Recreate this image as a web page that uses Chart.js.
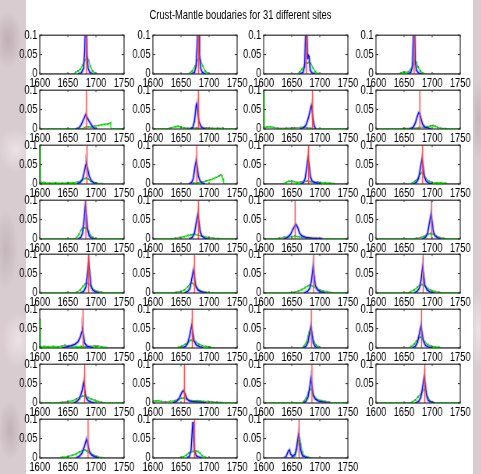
<!DOCTYPE html>
<html><head><meta charset="utf-8">
<script src="https://cdn.jsdelivr.net/npm/chart.js@4.4.1/dist/chart.umd.min.js"></script>
<style>
html,body{margin:0;padding:0;}
body{width:481px;height:474px;overflow:hidden;position:relative;background:#d8ccd0;}
#marble{position:absolute;left:0;top:0;width:481px;height:474px;background:
 radial-gradient(ellipse 14px 30px at 8px 40px, rgba(170,150,158,0.55), transparent),
 radial-gradient(ellipse 18px 22px at 16px 150px, rgba(240,232,236,0.8), transparent),
 radial-gradient(ellipse 12px 40px at 6px 250px, rgba(175,158,165,0.5), transparent),
 radial-gradient(ellipse 16px 28px at 18px 340px, rgba(240,232,236,0.8), transparent),
 radial-gradient(ellipse 12px 30px at 10px 430px, rgba(170,150,158,0.5), transparent),
 radial-gradient(ellipse 8px 40px at 478px 120px, rgba(175,158,165,0.5), transparent),
 radial-gradient(ellipse 8px 40px at 478px 330px, rgba(240,232,236,0.8), transparent),
 #d8ccd0;}
#paper{position:absolute;left:26px;top:0;width:447px;height:474px;background:#fff;}
#stage{position:absolute;left:0;top:0;width:617px;height:474px;transform:scaleX(0.78);transform-origin:0 0;}
#title{position:absolute;left:0;top:8px;width:616.7px;text-align:center;font:12px 'Liberation Sans',Arial,sans-serif;line-height:14px;color:#000;}
canvas{position:absolute;}
</style></head>
<body>
<div id="marble"></div>
<div id="paper"></div>
<div id="stage"><div id="title">Crust-Mantle boudaries for 31 different sites</div></div>
<script>
// ---------- data ----------
const xTickValues = [1600, 1650, 1700, 1750];
const xTickLabels = ['1600', '1650', '1700', '1750'];
const yTickValues = [0, 0.05, 0.1];
const yTickLabels = ['0', '0.05', '0.1'];

// red vertical line (boundary) per site
const redLines = [1683,1681,1676,1668, 1683,1681,1687,1678, 1684,1678,1680,1683, 1682,1681,1656,1699,
                  1687,1674,1689,1684, 1677,1670,1685,1681, 1680,1656,1686,1687, 1686,1674,1663];

// blue curves per site: [x, y] points
const blueCurves = [
 [[1668,0],[1674,0.003],[1678,0.015],[1680,0.06],[1681,0.12],[1683,0.12],[1684,0.05],[1686,0.015],[1689,0.004],[1695,0]],
 [[1668,0],[1674,0.004],[1677,0.02],[1679,0.08],[1680,0.12],[1682,0.12],[1683,0.05],[1685,0.015],[1688,0.004],[1694,0]],
 [[1664,0],[1670,0.004],[1673,0.02],[1675,0.12],[1677,0.12],[1678,0.04],[1679,0.05],[1681,0.045],[1683,0.01],[1686,0.003],[1692,0]],
 [[1656,0],[1662,0.004],[1665,0.02],[1667,0.12],[1669,0.12],[1670,0.03],[1672,0.01],[1676,0.002],[1682,0]],
 [[1664,0],[1670,0.003],[1674,0.012],[1678,0.025],[1681,0.035],[1682,0.038],[1684,0.03],[1687,0.022],[1690,0.015],[1694,0.006],[1698,0.001],[1702,0]],
 [[1666,0],[1671,0.004],[1674,0.02],[1677,0.06],[1678,0.065],[1680,0.045],[1682,0.02],[1685,0.008],[1689,0.002],[1694,0]],
 [[1665,0],[1672,0.004],[1676,0.012],[1680,0.03],[1683,0.05],[1685,0.061],[1686,0.05],[1688,0.025],[1690,0.008],[1693,0]],
 [[1660,0],[1666,0.004],[1670,0.015],[1673,0.03],[1676,0.042],[1678,0.04],[1680,0.028],[1683,0.012],[1687,0.005],[1692,0.003],[1698,0]],
 [[1666,0],[1672,0.004],[1676,0.012],[1679,0.03],[1682,0.05],[1683,0.052],[1685,0.04],[1688,0.02],[1692,0.008],[1697,0.002],[1702,0]],
 [[1664,0],[1669,0.004],[1672,0.015],[1675,0.045],[1677,0.06],[1679,0.045],[1681,0.02],[1684,0.008],[1688,0.002],[1693,0]],
 [[1666,0],[1671,0.004],[1674,0.015],[1677,0.045],[1679,0.068],[1681,0.05],[1683,0.02],[1686,0.008],[1690,0.004],[1696,0.002],[1702,0]],
 [[1666,0],[1672,0.004],[1676,0.015],[1679,0.04],[1682,0.065],[1684,0.045],[1686,0.02],[1689,0.008],[1694,0.002],[1700,0]],
 [[1668,0],[1673,0.004],[1676,0.015],[1679,0.05],[1681,0.087],[1683,0.06],[1685,0.025],[1688,0.008],[1692,0.002],[1697,0]],
 [[1664,0],[1670,0.004],[1674,0.015],[1677,0.04],[1680,0.063],[1682,0.045],[1684,0.02],[1687,0.008],[1692,0.002],[1698,0]],
 [[1636,0],[1642,0.004],[1648,0.012],[1652,0.025],[1656,0.035],[1658,0.037],[1661,0.028],[1664,0.015],[1668,0.008],[1675,0.004],[1685,0.002],[1700,0.001],[1705,0]],
 [[1682,0],[1688,0.004],[1692,0.015],[1695,0.04],[1698,0.063],[1700,0.045],[1702,0.02],[1705,0.008],[1710,0.003],[1716,0]],
 [[1672,0],[1678,0.004],[1682,0.015],[1685,0.05],[1687,0.083],[1689,0.05],[1691,0.02],[1694,0.008],[1700,0.002],[1706,0]],
 [[1656,0],[1662,0.004],[1666,0.012],[1669,0.035],[1672,0.058],[1674,0.045],[1676,0.02],[1680,0.008],[1686,0.003],[1694,0]],
 [[1672,0],[1678,0.004],[1682,0.012],[1685,0.03],[1688,0.067],[1690,0.045],[1692,0.02],[1696,0.008],[1702,0.003],[1710,0]],
 [[1668,0],[1673,0.004],[1677,0.012],[1680,0.03],[1683,0.067],[1685,0.045],[1687,0.02],[1691,0.008],[1697,0.002],[1704,0]],
 [[1640,0],[1648,0.003],[1656,0.006],[1663,0.01],[1668,0.016],[1672,0.028],[1675,0.042],[1676,0.046],[1678,0.03],[1680,0.012],[1684,0.005],[1690,0.002],[1696,0]],
 [[1652,0],[1658,0.004],[1662,0.012],[1666,0.035],[1669,0.058],[1671,0.04],[1673,0.02],[1677,0.008],[1684,0.003],[1690,0]],
 [[1670,0],[1675,0.004],[1679,0.015],[1682,0.04],[1684,0.055],[1686,0.04],[1688,0.015],[1691,0.005],[1696,0]],
 [[1664,0],[1670,0.004],[1674,0.015],[1677,0.035],[1680,0.056],[1682,0.04],[1684,0.02],[1688,0.007],[1694,0.002],[1700,0]],
 [[1660,0],[1666,0.004],[1671,0.012],[1675,0.03],[1678,0.053],[1680,0.035],[1682,0.015],[1686,0.006],[1692,0.002],[1698,0]],
 [[1635,0],[1642,0.004],[1647,0.012],[1651,0.026],[1654,0.032],[1657,0.025],[1660,0.012],[1664,0.006],[1670,0.004],[1678,0.003],[1686,0.002],[1695,0]],
 [[1670,0],[1675,0.004],[1679,0.015],[1682,0.04],[1684,0.063],[1686,0.045],[1688,0.02],[1692,0.01],[1698,0.005],[1705,0.003],[1712,0.001],[1718,0]],
 [[1670,0],[1676,0.004],[1680,0.015],[1683,0.04],[1686,0.067],[1688,0.045],[1690,0.02],[1693,0.007],[1698,0.002],[1704,0]],
 [[1664,0],[1670,0.004],[1675,0.012],[1679,0.028],[1683,0.048],[1685,0.04],[1688,0.018],[1692,0.008],[1698,0.003],[1705,0]],
 [[1660,0],[1665,0.004],[1668,0.02],[1670,0.07],[1671,0.093],[1672,0.07],[1674,0.02],[1677,0.006],[1682,0.002],[1688,0]],
 [[1636,0],[1640,0.004],[1644,0.018],[1646,0.021],[1648,0.01],[1652,0.004],[1656,0.01],[1659,0.03],[1662,0.06],[1664,0.045],[1666,0.02],[1669,0.006],[1674,0.002],[1680,0]]
];

// green curves per site
const greenCurves = [
 [[1600,0],[1660,0],[1664,0.004],[1668,0.008],[1672,0.012],[1676,0.022],[1680,0.035],[1684,0.042],[1687,0.035],[1690,0.02],[1694,0.008],[1698,0.002],[1702,0],[1750,0]],
 [[1600,0],[1662,0],[1666,0.003],[1670,0.008],[1675,0.02],[1679,0.035],[1682,0.04],[1685,0.035],[1689,0.02],[1693,0.008],[1697,0.002],[1702,0],[1750,0]],
 [[1600,0],[1660,0],[1664,0.005],[1668,0.012],[1672,0.022],[1675,0.03],[1678,0.028],[1681,0.03],[1684,0.027],[1688,0.015],[1692,0.006],[1696,0.001],[1700,0],[1750,0]],
 [[1600,0],[1640,0],[1645,0.003],[1650,0.006],[1654,0.004],[1658,0.006],[1662,0.012],[1666,0.025],[1669,0.036],[1672,0.03],[1675,0.018],[1679,0.008],[1683,0.003],[1688,0],[1750,0]],
 [[1600,0],[1676,0],[1680,0.004],[1686,0.006],[1692,0.005],[1698,0.008],[1704,0.009],[1710,0.011],[1716,0.012],[1721,0.013],[1726,0.016],[1727,0],[1750,0]],
 [[1600,0],[1625,0],[1632,0.003],[1640,0.006],[1645,0.007],[1650,0.005],[1656,0.003],[1662,0.002],[1670,0.002],[1678,0.003],[1686,0.002],[1695,0.003],[1705,0.002],[1715,0.002],[1725,0.002],[1726,0],[1750,0]],
 [[1600,0.12],[1601,0.004],[1606,0.005],[1612,0.006],[1618,0.004],[1625,0.002],[1640,0.002],[1655,0.003],[1665,0.004],[1672,0.005],[1678,0.003],[1684,0.002],[1690,0],[1750,0]],
 [[1600,0],[1640,0],[1650,0.001],[1665,0.002],[1675,0.003],[1685,0.005],[1692,0.006],[1697,0.008],[1701,0.009],[1705,0.007],[1710,0.004],[1716,0.002],[1724,0.001],[1727,0],[1750,0]],
 [[1600,0.1],[1601,0.003],[1605,0.004],[1610,0.003],[1618,0.002],[1628,0.003],[1640,0.002],[1650,0.003],[1660,0.003],[1668,0.005],[1674,0.009],[1680,0.014],[1683,0.016],[1686,0.013],[1690,0.008],[1695,0.004],[1702,0.002],[1710,0.001],[1714,0],[1750,0]],
 [[1600,0],[1668,0],[1672,0.002],[1680,0.003],[1688,0.005],[1695,0.008],[1702,0.011],[1708,0.014],[1713,0.017],[1718,0.021],[1721,0.024],[1723,0.02],[1725,0.012],[1726,0],[1750,0]],
 [[1600,0],[1635,0],[1640,0.004],[1645,0.007],[1650,0.008],[1655,0.006],[1660,0.004],[1666,0.005],[1672,0.007],[1678,0.008],[1684,0.006],[1690,0.004],[1696,0.005],[1702,0.004],[1710,0.003],[1718,0.002],[1725,0.001],[1727,0],[1750,0]],
 [[1600,0],[1660,0],[1665,0.003],[1670,0.008],[1675,0.016],[1679,0.026],[1682,0.03],[1685,0.025],[1689,0.014],[1694,0.007],[1700,0.004],[1708,0.003],[1716,0.003],[1724,0.002],[1727,0],[1750,0]],
 [[1600,0],[1662,0],[1666,0.004],[1670,0.012],[1673,0.022],[1676,0.028],[1680,0.029],[1684,0.028],[1687,0.02],[1690,0.01],[1694,0.004],[1698,0.001],[1702,0],[1750,0]],
 [[1600,0],[1630,0],[1640,0.002],[1648,0.004],[1655,0.006],[1662,0.009],[1668,0.011],[1674,0.012],[1680,0.01],[1686,0.008],[1692,0.006],[1700,0.004],[1708,0.002],[1716,0.001],[1722,0],[1750,0]],
 [[1600,0],[1620,0],[1628,0.002],[1636,0.004],[1644,0.005],[1650,0.006],[1656,0.008],[1662,0.006],[1668,0.004],[1676,0.003],[1685,0.002],[1695,0.001],[1702,0],[1750,0]],
 [[1600,0],[1665,0],[1672,0.002],[1680,0.004],[1686,0.007],[1692,0.012],[1697,0.014],[1702,0.012],[1707,0.008],[1713,0.004],[1720,0.002],[1726,0],[1750,0]],
 [[1600,0],[1662,0],[1667,0.003],[1672,0.008],[1677,0.017],[1681,0.024],[1684,0.026],[1688,0.022],[1692,0.014],[1697,0.007],[1703,0.004],[1710,0.002],[1716,0],[1750,0]],
 [[1600,0],[1636,0],[1642,0.002],[1650,0.004],[1656,0.008],[1662,0.016],[1666,0.023],[1669,0.026],[1673,0.022],[1677,0.015],[1682,0.008],[1688,0.004],[1695,0.002],[1702,0],[1750,0]],
 [[1600,0],[1648,0],[1655,0.002],[1662,0.005],[1668,0.009],[1674,0.014],[1679,0.019],[1683,0.02],[1688,0.017],[1694,0.012],[1700,0.008],[1706,0.005],[1713,0.003],[1720,0.001],[1726,0],[1750,0]],
 [[1600,0],[1656,0],[1662,0.003],[1668,0.008],[1674,0.015],[1679,0.021],[1683,0.022],[1687,0.018],[1692,0.012],[1698,0.007],[1705,0.004],[1712,0.002],[1720,0],[1750,0]],
 [[1600,0.075],[1601,0.003],[1608,0.004],[1615,0.003],[1624,0.004],[1632,0.003],[1640,0.005],[1645,0.007],[1650,0.005],[1658,0.004],[1666,0.003],[1674,0.004],[1682,0.003],[1690,0.004],[1698,0.006],[1703,0.005],[1710,0.003],[1718,0.001],[1722,0],[1750,0]],
 [[1600,0],[1640,0],[1646,0.002],[1652,0.005],[1658,0.01],[1663,0.016],[1668,0.02],[1672,0.019],[1677,0.015],[1682,0.01],[1688,0.006],[1695,0.004],[1702,0.002],[1710,0],[1750,0]],
 [[1600,0],[1668,0],[1672,0.006],[1676,0.015],[1679,0.03],[1681,0.04],[1684,0.038],[1687,0.028],[1690,0.016],[1693,0.008],[1697,0.003],[1702,0],[1750,0]],
 [[1600,0],[1658,0],[1663,0.004],[1668,0.01],[1672,0.018],[1676,0.025],[1679,0.028],[1683,0.024],[1687,0.016],[1692,0.009],[1698,0.005],[1705,0.003],[1712,0.002],[1718,0],[1750,0]],
 [[1600,0],[1630,0],[1640,0.002],[1650,0.004],[1658,0.006],[1665,0.01],[1671,0.015],[1676,0.018],[1681,0.018],[1686,0.014],[1692,0.01],[1698,0.007],[1704,0.004],[1710,0.002],[1716,0],[1750,0]],
 [[1600,0.006],[1605,0.005],[1610,0.006],[1615,0.004],[1622,0.003],[1630,0.004],[1638,0.006],[1645,0.009],[1650,0.012],[1655,0.013],[1660,0.01],[1666,0.006],[1672,0.005],[1678,0.006],[1684,0.005],[1690,0.004],[1698,0.004],[1706,0.003],[1714,0.002],[1722,0.001],[1726,0],[1750,0]],
 [[1600,0],[1668,0],[1672,0.005],[1676,0.014],[1679,0.025],[1682,0.034],[1685,0.036],[1688,0.026],[1692,0.014],[1697,0.008],[1703,0.006],[1710,0.004],[1717,0.002],[1722,0],[1750,0]],
 [[1600,0],[1660,0],[1665,0.003],[1670,0.008],[1675,0.016],[1679,0.022],[1682,0.027],[1686,0.035],[1689,0.03],[1692,0.016],[1696,0.006],[1700,0.002],[1706,0],[1750,0]],
 [[1600,0],[1632,0],[1640,0.002],[1650,0.004],[1658,0.007],[1665,0.011],[1671,0.016],[1676,0.019],[1680,0.021],[1684,0.018],[1689,0.013],[1695,0.008],[1702,0.004],[1710,0.001],[1714,0],[1750,0]],
 [[1600,0],[1648,0],[1654,0.003],[1660,0.008],[1664,0.013],[1668,0.016],[1672,0.017],[1676,0.018],[1680,0.017],[1684,0.012],[1688,0.006],[1693,0.002],[1698,0],[1750,0]],
 [[1600,0],[1652,0],[1656,0.006],[1659,0.02],[1662,0.045],[1664,0.052],[1666,0.035],[1669,0.015],[1672,0.006],[1676,0.003],[1682,0.001],[1686,0],[1750,0]]
];

// ---------- layout (figure pixels) ----------
const SQ = 0.78;                    // horizontal squeeze of the figure
const colLeft = [40, 152.5, 264, 376];
const rowTop0 = 33, rowPitch = 54.86;
const AW = 84.5, AH = 41;
const padL = 40, padR = 22, padT = 8, padB = 18;
const FONT = {family: "'Liberation Sans', Arial, sans-serif", size: 12};

const boxPlugin = {
  id: 'mbox',
  afterDatasetsDraw(chart) {
    const {ctx, chartArea: a, scales: {x, y}} = chart;
    ctx.save();
    ctx.strokeStyle = '#2e2e2e';
    ctx.lineWidth = 1.2;
    ctx.strokeRect(a.left, a.top, a.right - a.left, a.bottom - a.top);
    ctx.lineWidth = 1;
    ctx.beginPath();
    x.ticks.forEach(t => {
      const p = x.getPixelForValue(t.value);
      ctx.moveTo(p, a.bottom); ctx.lineTo(p, a.bottom - 2);
      ctx.moveTo(p, a.top); ctx.lineTo(p, a.top + 2);
    });
    y.ticks.forEach(t => {
      const p = y.getPixelForValue(t.value);
      ctx.moveTo(a.left, p); ctx.lineTo(a.left + 3, p);
      ctx.moveTo(a.right, p); ctx.lineTo(a.right - 3, p);
    });
    ctx.stroke();
    ctx.restore();
  }
};

const stage = document.getElementById('stage');
const pts = arr => arr.map(([x, y]) => ({x, y}));

for (let i = 0; i < redLines.length; i++) {
  const r = Math.floor(i / 4), c = i % 4;
  const cv = document.createElement('canvas');
  const w = Math.round(AW / SQ + padL + padR);
  const h = AH + padT + padB;
  cv.width = w; cv.height = h;
  cv.style.left = (colLeft[c] / SQ - padL) + 'px';
  cv.style.top = (rowTop0 + r * rowPitch - padT) + 'px';
  cv.style.width = w + 'px'; cv.style.height = h + 'px';
  stage.appendChild(cv);
  const red = [{x: redLines[i], y: 0}, {x: redLines[i], y: 0.1}];
  const blue = pts(blueCurves[i]);
  const green = pts(greenCurves[i]);
  new Chart(cv, {
    type: 'line',
    data: {datasets: [
      {data: red, borderColor: '#ff3838', borderWidth: 1},
      {data: red, borderColor: 'rgba(255,140,140,0.3)', borderWidth: 3},
      {data: blue, borderColor: '#0a0af0', borderWidth: 1.3},
      {data: blue, borderColor: 'rgba(120,120,255,0.5)', borderWidth: 3.5},
      {data: green, borderColor: '#22ee22', borderWidth: 1.5,
       pointRadius: ctx => (ctx.raw && ctx.raw.y > 0 ? 1.2 : 0),
       pointStyle: 'crossRot', pointBorderColor: '#14b014', pointBorderWidth: 1}
    ]},
    options: {
      responsive: false, animation: false, devicePixelRatio: 1,
      layout: {padding: {left: 0, right: padR, top: padT, bottom: 0}},
      elements: {line: {tension: 0, fill: false}, point: {radius: 0, hoverRadius: 0}},
      datasets: {line: {clip: 0}},
      plugins: {legend: {display: false}, tooltip: {enabled: false}},
      events: [],
      scales: {
        x: {type: 'linear', min: 1600, max: 1750,
            afterBuildTicks: s => { s.ticks = xTickValues.map(v => ({value: v})); },
            ticks: {callback: (v, k) => xTickLabels[k], maxRotation: 0, autoSkip: false, padding: 2, font: FONT, color: '#000'},
            grid: {display: false, drawTicks: false, tickLength: 0}, border: {display: false},
            afterFit: s => { s.height = padB; }},
        y: {type: 'linear', min: 0, max: 0.1,
            afterBuildTicks: s => { s.ticks = yTickValues.map(v => ({value: v})); },
            ticks: {callback: (v, k) => yTickLabels[k], padding: 3, font: FONT, color: '#000'},
            grid: {display: false, drawTicks: false, tickLength: 0}, border: {display: false},
            afterFit: s => { s.width = padL; }}
      }
    },
    plugins: [boxPlugin]
  });
}
</script>
</body></html>
